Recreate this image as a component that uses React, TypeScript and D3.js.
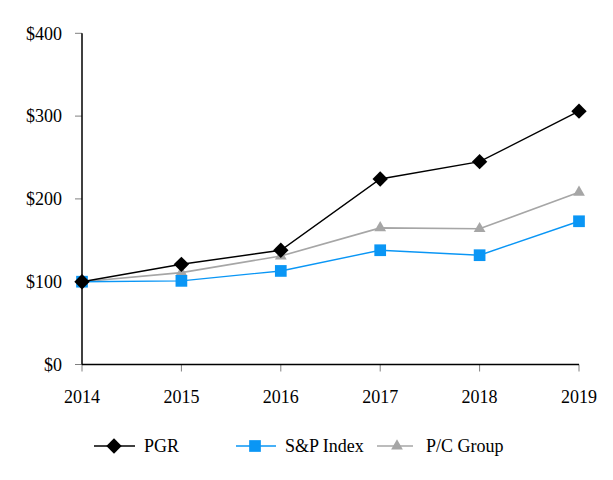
import React from "react";
import * as d3 from "d3";

const years = ["2014", "2015", "2016", "2017", "2018", "2019"];
const pgr = [100, 121, 138, 224, 245, 306];
const sp = [100, 101, 113, 138, 132, 173];
const pc = [100, 111, 131, 165, 164, 208];
const yTicks = [0, 100, 200, 300, 400];

const W = 613, H = 480;
const FONT = "Liberation Serif";

export default function App() {
  const x = d3.scalePoint<string>().domain(years).range([82, 579]);
  const y = d3.scaleLinear().domain([0, 400]).range([364.5, 33.3]);
  const line = d3.line<number>().x((_, i) => x(years[i])!).y((d) => y(d));

  const diamond = d3.symbol().type(d3.symbolSquare).size(118)()!;
  const square = d3.symbol().type(d3.symbolSquare).size(137)()!;
  const tri = d3.symbol().type(d3.symbolTriangle).size(60)()!;

  const series = [
    { name: "PGR", data: pgr, color: "#000000", marker: "diamond", lw: 1.4 },
    { name: "S&P Index", data: sp, color: "#0A96F5", marker: "square", lw: 1.4 },
    { name: "P/C Group", data: pc, color: "#A6A6A6", marker: "tri", lw: 1.6 },
  ];

  const drawMarker = (m: string, color: string, cx: number, cy: number, key: any) => {
    if (m === "diamond")
      return <path key={key} d={diamond} transform={`translate(${cx},${cy}) rotate(45)`} fill={color} />;
    if (m === "square")
      return <path key={key} d={square} transform={`translate(${cx},${cy})`} fill={color} />;
    return <path key={key} d={tri} transform={`translate(${cx},${cy})`} fill={color} />;
  };

  const order = [2, 1, 0];
  const legend = [
    { s: series[0], x0: 94, x1: 135, mx: 114, tx: 144 },
    { s: series[1], x0: 236, x1: 276, mx: 255, tx: 285 },
    { s: series[2], x0: 377, x1: 413, mx: 397, tx: 426 },
  ];
  const ly = 446;

  return (
    <svg width={W} height={H} style={{ position: "absolute", left: 0, top: 0, background: "#fff" }}>
      <rect width={W} height={H} fill="#fff" />
      {yTicks.map((t) => (
        <g key={t}>
          <line x1={75} x2={82} y1={y(t)} y2={y(t)} stroke="#808080" strokeWidth={1} />
          <text x={62} y={y(t)} dy="0.35em" textAnchor="end" fontFamily={FONT} fontSize={18} fill="#000">
            ${t}
          </text>
        </g>
      ))}
      {years.map((yr) => (
        <g key={yr}>
          <line x1={x(yr)} x2={x(yr)} y1={y(0)} y2={y(0) + 7} stroke="#808080" strokeWidth={1} />
          <text x={x(yr)} y={403} textAnchor="middle" fontFamily={FONT} fontSize={18} fill="#000">
            {yr}
          </text>
        </g>
      ))}
      <line x1={82} x2={82} y1={33.3} y2={y(0)} stroke="#000" strokeWidth={1.5} />
      <line x1={82} x2={579} y1={y(0)} y2={y(0)} stroke="#000" strokeWidth={1.5} />
      {order.map((i) => {
        const s = series[i];
        return (
          <g key={s.name}>
            <path d={line(s.data)!} fill="none" stroke={s.color} strokeWidth={s.lw} />
            {s.data.map((v, j) => drawMarker(s.marker, s.color, x(years[j])!, y(v), j))}
          </g>
        );
      })}
      {legend.map((l) => (
        <g key={l.s.name}>
          <line x1={l.x0} x2={l.x1} y1={ly} y2={ly} stroke={l.s.color} strokeWidth={1.5} />
          {drawMarker(l.s.marker, l.s.color, l.mx, ly, "m")}
          <text x={l.tx} y={ly} dy="0.35em" fontFamily={FONT} fontSize={18} fill="#000">
            {l.s.name}
          </text>
        </g>
      ))}
    </svg>
  );
}
